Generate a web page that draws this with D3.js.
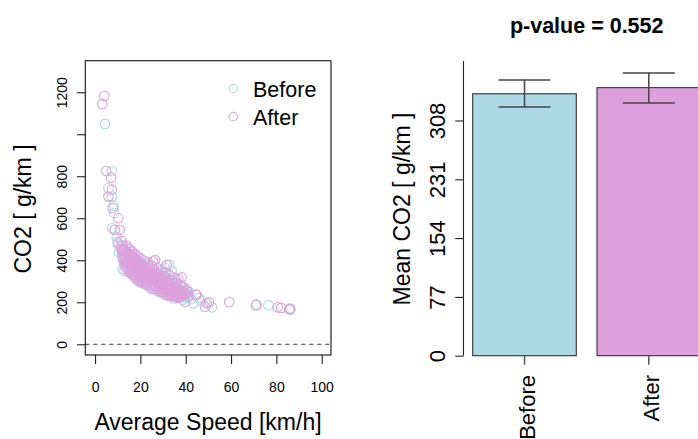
<!DOCTYPE html>
<html lang="en">
<head>
	<meta charset="utf-8">
	<title>CO2 before / after</title>
	<script src="https://d3js.org/d3.v7.min.js"></script>
	<style type="text/css">
		body {
			margin: 0;
			background: white;
		}
		svg text {
			font-family: "Liberation Sans", Arial, Helvetica, sans-serif;
			fill: black;
		}
	</style>
</head>
<body>
	<svg id="chart-svg"></svg>

	<script type="text/javascript">
		// ---------------- data ----------------
		// [average speed km/h, CO2 g/km]
		let beforePoints = [
			[4.4,1049],[7.4,825],[5.9,743],[7.4,703],[8.2,660],[8.4,625],[7.6,552],[9.6,512],[9.9,488],[10.6,438],
			[11.2,470],[11.8,452],[12.1,415],[12.5,398],[12.9,436],[13.3,380],[13.6,462],[14.0,405],[14.2,372],[14.6,430],
			[15.0,390],[15.3,355],[15.5,445],[15.9,410],[16.2,372],[16.4,340],[16.8,425],[17.1,395],[17.3,360],[17.7,333],
			[18.0,410],[18.2,385],[18.6,350],[19.0,322],[19.3,398],[19.6,368],[19.9,340],[20.3,305],[20.6,385],[20.9,352],
			[21.2,325],[21.5,298],[21.9,372],[22.2,340],[22.6,312],[23.0,290],[23.3,392],[23.6,355],[23.9,325],[24.3,300],
			[24.7,278],[25.0,362],[25.4,335],[25.8,305],[26.1,282],[26.5,350],[26.9,318],[27.3,292],[27.6,268],[28.0,338],
			[28.4,305],[28.8,280],[29.1,258],[29.5,330],[29.9,298],[30.2,272],[30.6,250],[31.0,362],[31.4,312],[31.8,285],
			[32.2,260],[32.8,378],[33.2,300],[33.5,268],[33.8,350],[34.1,245],[34.5,290],[34.9,262],[35.3,238],[35.7,305],
			[36.0,275],[36.4,250],[36.8,228],[37.3,285],[37.7,258],[38.2,235],[38.6,268],[39.1,245],[39.6,222],[40.2,258],
			[40.8,232],[41.5,250],[42.3,215],[43.4,195],[45.8,220],[47.0,205],[51.6,176],[71.3,190],[76.5,185],[86.2,165],
			[14.8,420],[17.0,370],[19.5,345],[22.0,330],[24.5,312],[27.0,300],[29.8,282],[32.5,270],[35.0,255],[37.8,248],
			[13.8,395],[16.0,388],[21.0,360],[26.0,322],[31.0,292],[36.2,240],[12.2,360],[13.0,350],[18.8,300],
			[24.9,262],[30.9,235],[34.6,218],[28.3,248],[38.9,212]
		]
		let afterPoints = [
			[3.2,1143],[4.1,1182],[4.9,825],[7.1,793],[7.4,736],[5.9,703],[7.8,648],[10.3,600],[8.7,545],[10.9,545],
			[11.7,492],[10.2,480],[11.5,455],[12.0,432],[12.3,470],[12.6,405],[13.0,448],[13.2,388],[13.5,420],[13.8,470],
			[14.1,395],[14.3,438],[14.7,365],[14.9,412],[15.2,455],[15.4,380],[15.7,428],[15.9,350],[16.1,400],[16.3,442],
			[16.6,368],[16.9,415],[17.2,338],[17.4,385],[17.6,430],[17.9,355],[18.1,400],[18.4,325],[18.7,372],[18.9,418],
			[19.2,342],[19.5,390],[19.8,312],[20.1,360],[20.4,405],[20.7,330],[21.0,378],[21.3,302],[21.6,348],[21.9,395],
			[22.3,320],[22.6,365],[22.9,292],[23.2,338],[23.5,382],[23.8,310],[24.1,355],[24.4,282],[24.8,328],[25.1,372],
			[25.6,395],[25.9,300],[26.2,345],[26.5,401],[26.8,272],[27.1,318],[27.4,362],[27.8,292],[28.1,335],[28.5,265],
			[28.8,310],[29.2,352],[29.6,282],[29.9,325],[30.3,258],[30.6,300],[31.0,342],[31.3,316],[31.6,275],[31.6,378],
			[32.0,250],[32.4,295],[32.8,328],[33.1,268],[33.5,242],[33.9,305],[34.3,282],[34.7,255],[35.1,318],[35.5,235],
			[35.9,290],[36.3,265],[36.7,312],[37.0,245],[37.4,225],[37.8,280],[38.2,319],[38.5,252],[38.9,232],[39.3,270],
			[39.7,203],[40.1,242],[40.6,255],[41.2,225],[44.4,237],[44.8,235],[48.5,179],[49.3,195],[50.3,200],[59.2,200],
			[71.0,185],[80.6,176],[82.1,173],[86.0,170],[85.7,167],
			[14.5,400],[15.6,392],[16.7,385],[17.5,375],[18.3,365],[19.1,360],[19.9,350],[20.8,345],[21.7,335],[22.5,330],
			[23.4,322],[24.2,318],[25.2,310],[26.0,305],[26.9,298],[27.7,290],[28.6,285],[29.4,278],[30.2,270],[31.2,262],
			[32.1,258],[33.0,250],[34.0,240],[35.0,232],[36.0,228],[15.1,425],[16.4,418],[17.8,405],[19.0,395],[20.5,380],
			[22.0,370],[23.7,352],[25.3,340],[26.7,332],[28.2,322],[29.7,310],[31.4,300],[33.3,285],[35.2,272],[37.1,262],
			[13.4,410],[14.0,385],[16.0,360],[18.5,342],[21.0,320],[24.0,300],[27.0,280],[30.0,262],[33.4,232],[36.6,238],
			[12.8,425],[38.0,228],[39.5,238],
			[13.1,372],[14.4,352],[15.5,340],[16.6,330],[17.7,318],[18.9,308],[20.0,298],[21.4,290],[22.8,282],[24.6,270],
			[26.3,262],[28.0,255],[29.5,248],[31.0,242],[32.7,238],[34.4,228],[36.3,222],[12.4,445],[13.7,440],[15.0,410],
			[16.2,402],[17.3,395],[18.6,385],[19.7,375],[20.9,365],[22.2,355],[23.6,345],[25.0,335],[26.4,322],[27.9,312],
			[29.3,300],[30.8,288],[32.3,278],[33.8,268],[35.4,258],[36.9,250],[38.4,242],[19.4,330],[22.4,310],[25.5,290],
			[28.9,272],[32.0,232],[17.0,350],[23.0,300],[34.8,245]
		]

		let groupNames = ['Before', 'After']
		let groupColors = ['lightblue', 'plum']
		let meanCO2 = [343, 351]
		let errLow = [325.7, 331]
		let errHigh = [361.1, 370.2]
		let pValue = '0.552'

		let speedTicks = [0, 20, 40, 60, 80, 100]
		let co2Ticks = [0, 200, 400, 600, 800, 1000, 1200]
		let co2TickLabels = ['0', '200', '400', '600', '800', '', '1200']
		let meanTicks = [0, 77, 154, 231, 308]

		// ---------------- setup ----------------
		let w = 698
		let h = 439

		let svg = d3.select('#chart-svg')
			.attr('width', w)
			.attr('height', h)

		// ================= left panel: scatter =================
		let left = svg.append('g')

		let xScale = d3.scaleLinear()
			.domain([-4.3, 104.1])
			.range([85.3, 331])

		let yScale = d3.scaleLinear()
			.domain([-51, 1350])
			.range([355, 60.7])

		// zero line
		left.append('line')
			.attr('x1', xScale.range()[0])
			.attr('x2', xScale.range()[1])
			.attr('y1', yScale(0))
			.attr('y2', yScale(0))
			.attr('stroke', '#333')
			.attr('stroke-width', 1)
			.attr('stroke-dasharray', '4,4')

		// points, before first then after on top
		let series = [beforePoints, afterPoints]
		series.forEach(function(pts, i) {
			left.append('g')
				.selectAll('circle')
				.data(pts)
				.enter()
				.append('circle')
				.attr('cx', (d) => xScale(d[0]))
				.attr('cy', (d) => yScale(d[1]))
				.attr('r', 4.8)
				.attr('fill', 'none')
				.attr('stroke', groupColors[i])
				.attr('stroke-width', 1.1)
		})

		// box
		left.append('rect')
			.attr('x', 85.3)
			.attr('y', 60.7)
			.attr('width', 331 - 85.3)
			.attr('height', 355 - 60.7)
			.attr('fill', 'none')
			.attr('stroke', '#222')
			.attr('stroke-width', 1.2)

		// x axis
		let xAxis = d3.axisBottom(xScale)
			.tickValues(speedTicks)
			.tickSize(9)
		let gx = left.append('g')
			.attr('transform', 'translate(0,355)')
			.call(xAxis)
		gx.select('.domain').remove()
		gx.selectAll('line').attr('stroke', '#222').attr('stroke-width', 1.1)
		gx.selectAll('text')
			.attr('font-size', '14px')
			.attr('dy', null)
			.attr('y', 36.5)

		// y axis, labels are parallel to the axis like R
		let yAxis = d3.axisLeft(yScale)
			.tickValues(co2Ticks)
			.tickSize(8.3)
			.tickFormat((d, i) => co2TickLabels[i])
		let gy = left.append('g')
			.attr('transform', 'translate(85.3,0)')
			.call(yAxis)
		gy.select('.domain').remove()
		gy.selectAll('line').attr('stroke', '#222').attr('stroke-width', 1.1)
		gy.selectAll('text')
			.attr('font-size', '14px')
			.attr('x', null)
			.attr('dy', null)
			.attr('text-anchor', 'middle')
			.attr('transform', 'translate(-18.5,0) rotate(-90)')

		left.append('text')
			.attr('transform', 'translate(31,209) rotate(-90)')
			.attr('text-anchor', 'middle')
			.attr('font-size', '23px')
			.text('CO2 [ g/km ]')

		left.append('text')
			.attr('x', 208)
			.attr('y', 429.5)
			.attr('text-anchor', 'middle')
			.attr('font-size', '23px')
			.text('Average Speed [km/h]')

		// legend
		let legend = left.append('g')
		legend.selectAll('circle')
			.data(groupNames)
			.enter()
			.append('circle')
			.attr('cx', 233.3)
			.attr('cy', (d, i) => 88.5 + i * 28)
			.attr('r', 4.2)
			.attr('fill', 'none')
			.attr('stroke', (d, i) => groupColors[i])
			.attr('stroke-width', 1.1)
		legend.selectAll('text')
			.data(groupNames)
			.enter()
			.append('text')
			.attr('x', 253)
			.attr('y', (d, i) => 97.3 + i * 28)
			.attr('font-size', '21.5px')
			.text((d) => d)

		// ================= right panel: bar plot =================
		let right = svg.append('g')

		let bScale = d3.scaleBand()
			.domain(groupNames)
			.range([452, 721.3])
			.paddingInner(1 / 6)
			.paddingOuter(1 / 6)

		let mScale = d3.scaleLinear()
			.domain([0, 385.9])
			.range([355.7, 61])

		right.selectAll('rect')
			.data(groupNames)
			.enter()
			.append('rect')
			.attr('x', (d) => bScale(d))
			.attr('width', bScale.bandwidth())
			.attr('y', (d, i) => mScale(meanCO2[i]))
			.attr('height', (d, i) => mScale(0) - mScale(meanCO2[i]))
			.attr('fill', (d, i) => groupColors[i])
			.attr('stroke', '#333')
			.attr('stroke-width', 1.1)

		// error bars
		let errs = right.append('g')
		groupNames.forEach(function(g, i) {
			let cx = bScale(g) + bScale.bandwidth() / 2
			errs.append('line')
				.attr('x1', cx).attr('x2', cx)
				.attr('y1', mScale(errLow[i])).attr('y2', mScale(errHigh[i]))
				.attr('stroke', '#444').attr('stroke-width', 1.5)
			;[errLow[i], errHigh[i]].forEach(function(v) {
				errs.append('line')
					.attr('x1', cx - 26).attr('x2', cx + 26)
					.attr('y1', mScale(v)).attr('y2', mScale(v))
					.attr('stroke', '#444').attr('stroke-width', 1.5)
			})
		})

		// y axis
		let mAxis = d3.axisLeft(mScale)
			.tickValues(meanTicks)
			.tickSize(8.3)
		let gm = right.append('g')
			.attr('transform', 'translate(463.5,0)')
			.call(mAxis)
		gm.select('.domain').remove()
		gm.selectAll('line').attr('stroke', '#222').attr('stroke-width', 1.1)
		gm.selectAll('text')
			.attr('font-size', '22px')
			.attr('x', null)
			.attr('dy', null)
			.attr('text-anchor', 'middle')
			.attr('transform', 'translate(-19,0) rotate(-90)')
		right.append('line')
			.attr('x1', 463.5).attr('x2', 463.5)
			.attr('y1', mScale.range()[1]).attr('y2', mScale.range()[0])
			.attr('stroke', '#222').attr('stroke-width', 1.1)

		// x ticks + rotated names
		let bAxis = d3.axisBottom(bScale)
			.tickSize(9)
			.tickFormat('')
		let gb = right.append('g')
			.attr('transform', 'translate(0,355.7)')
			.call(bAxis)
		gb.select('.domain').remove()
		gb.selectAll('line').attr('stroke', '#555').attr('stroke-width', 1.5)

		right.selectAll('.barname')
			.data(groupNames)
			.enter()
			.append('text')
			.attr('class', 'barname')
			.attr('font-size', '22px')
			.attr('text-anchor', 'end')
			.attr('transform', (d) => 'translate(' + (bScale(d) + bScale.bandwidth() / 2 + 10.5) + ',375) rotate(-90)')
			.text((d) => d)

		right.append('text')
			.attr('transform', 'translate(409.5,209) rotate(-90)')
			.attr('text-anchor', 'middle')
			.attr('font-size', '23px')
			.text('Mean CO2 [ g/km ]')

		right.append('text')
			.attr('x', 586.7)
			.attr('y', 33)
			.attr('text-anchor', 'middle')
			.attr('font-size', '21.5px')
			.attr('font-weight', 'bold')
			.text('p-value = ' + pValue)
	</script>
</body>
</html>
